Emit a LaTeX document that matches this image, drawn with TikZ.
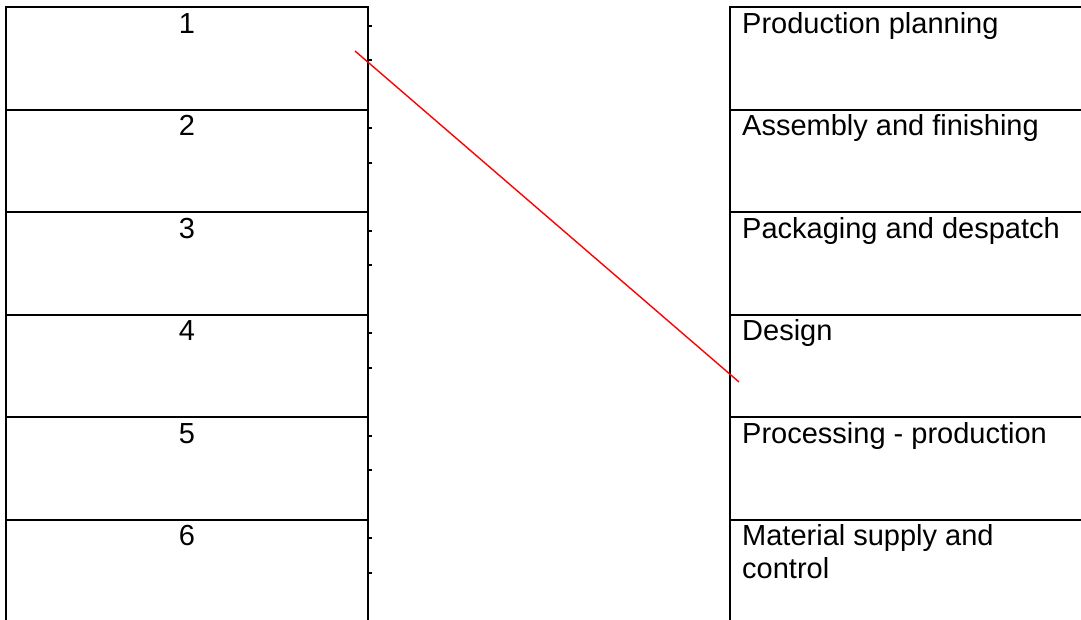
\documentclass[tikz,border=0pt]{standalone}
\usepackage{fontspec}
\setmainfont{Liberation Sans}
\usepackage{tikz}
\usetikzlibrary{positioning,calc}

\begin{document}
\begin{tikzpicture}[x=1pt,y=1pt,
  cell/.style={draw, line width=2pt, anchor=north west, inner sep=0pt,
    minimum width=362pt, minimum height=102.5pt},
  num/.style={anchor=base, inner sep=0pt, font=\fontsize{29}{33}\selectfont},
  txt/.style={anchor=base west, inner sep=0pt, align=left,
    font=\fontsize{29}{33}\selectfont},
  tick/.style={line width=2pt},
  link/.style={red, line width=1.4pt}]
\useasboundingbox (0,0) rectangle (1081,-619);
\clip (0,0) rectangle (1081,-619);
% left column
\node[cell] (L1) at (5,-6) {};
\node[cell] (L2) at (5,-108.5) {};
\node[cell] (L3) at (5,-211) {};
\node[cell] (L4) at (5,-313.5) {};
\node[cell] (L5) at (5,-416) {};
\node[cell] (L6) at (5,-518.5) {};
\node[num] (N1) at ([yshift=-27pt]L1.north) {1};
\node[num] (N2) at ([yshift=-27pt]L2.north) {2};
\node[num] (N3) at ([yshift=-27pt]L3.north) {3};
\node[num] (N4) at ([yshift=-27pt]L4.north) {4};
\node[num] (N5) at ([yshift=-27pt]L5.north) {5};
\node[num] (N6) at ([yshift=-27pt]L6.north) {6};
\foreach \r in {1,...,6}{
  \draw[tick] ([yshift=-19.5pt]L\r.north east) -- ++(3,0);
  \draw[tick] ([yshift=-54pt]L\r.north east) -- ++(3,0);
}
% right column
\node[cell] (R1) at (729,-6) {};
\node[cell] (R2) at (729,-108.5) {};
\node[cell] (R3) at (729,-211) {};
\node[cell] (R4) at (729,-313.5) {};
\node[cell] (R5) at (729,-416) {};
\node[cell] (R6) at (729,-518.5) {};
\node[txt] (T1) at ([xshift=13pt,yshift=-27pt]R1.north west) {Production planning};
\node[txt] (T2) at ([xshift=13pt,yshift=-27pt]R2.north west) {Assembly and finishing};
\node[txt] (T3) at ([xshift=13pt,yshift=-27pt]R3.north west) {Packaging and despatch};
\node[txt] (T4) at ([xshift=13pt,yshift=-27pt]R4.north west) {Design};
\node[txt] (T5) at ([xshift=13pt,yshift=-27pt]R5.north west) {Processing - production};
% two lines: base sits on the second line
\node[txt] (T6) at ([xshift=13pt,yshift=-60pt]R6.north west) {Material supply and\\control};
% matching line
\coordinate (A) at (355,-51);
\coordinate (B) at (739,-382);
\draw[link] (A) -- (B);
\end{tikzpicture}
\end{document}
